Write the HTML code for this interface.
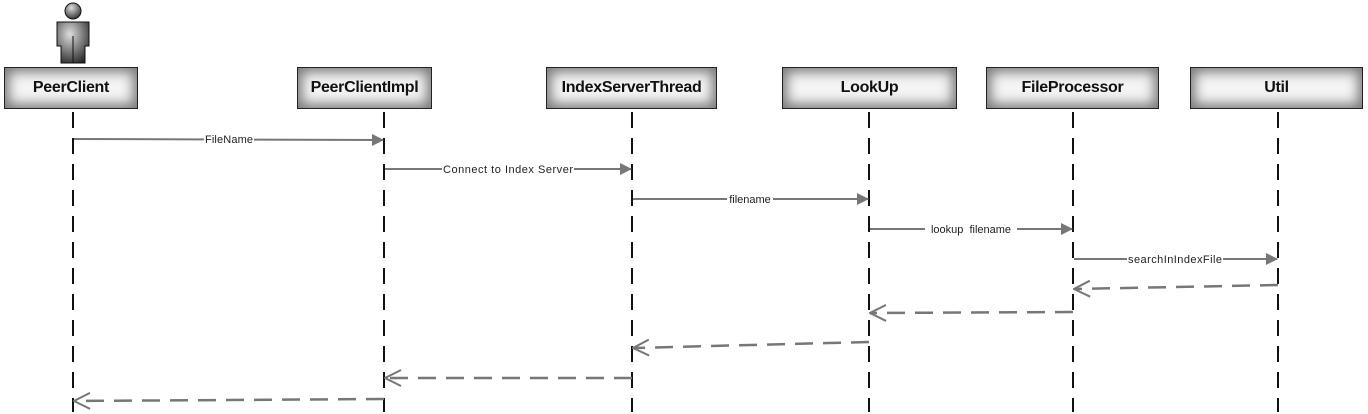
<!DOCTYPE html>
<html><head><style>
body{margin:0;width:1368px;height:414px;background:#fff;overflow:hidden;position:relative;font-family:"Liberation Sans",sans-serif}
.b{position:absolute;top:67px;height:42px;border:1px solid #222;background:#f4f4f4;box-shadow:inset 0 0 12px 4px #777;display:flex;align-items:center;justify-content:center;font-weight:bold;font-size:16px;color:#111;box-sizing:border-box;letter-spacing:-0.3px}
svg{position:absolute;left:0;top:0}
</style></head><body>
<svg width="1368" height="414">
<defs>
<marker id="a" markerWidth="12" markerHeight="12" refX="11" refY="6" orient="auto" markerUnits="userSpaceOnUse"><path d="M0,0 L12,6 L0,12z" fill="#777"/></marker>
<marker id="o" markerWidth="18" markerHeight="18" refX="17" refY="9" orient="auto" markerUnits="userSpaceOnUse"><path d="M1,1 L17,9 L1,17" fill="none" stroke="#777" stroke-width="2"/></marker>
<radialGradient id="g" cx="0.4" cy="0.3" r="0.8"><stop offset="0" stop-color="#ddd"/><stop offset="1" stop-color="#222"/></radialGradient>
</defs>
<circle cx="73" cy="11" r="8" fill="url(#g)" stroke="#111"/>
<path d="M57,22 H89 V46 H85 V63 H61 V46 H57z" fill="url(#g)" stroke="#111"/>
<path d="M73,36 V63" stroke="#111"/>
<g stroke="#111" stroke-width="2" stroke-dasharray="16,10" fill="none">
<path d="M73,112 V412"/><path d="M384,112 V412"/><path d="M632,112 V412"/><path d="M869,112 V412"/><path d="M1073,112 V412"/><path d="M1278,112 V412"/>
</g>
<g stroke="#777" stroke-width="2" fill="none">
<path d="M74,139 L383,140" marker-end="url(#a)"/>
<path d="M385,169 L631,169" marker-end="url(#a)"/>
<path d="M633,199 L868,199" marker-end="url(#a)"/>
<path d="M870,229 L1072,229" marker-end="url(#a)"/>
<path d="M1074,259 L1277,259" marker-end="url(#a)"/>
</g>
<g stroke="#777" stroke-width="2.5" fill="none" stroke-dasharray="18,10">
<path d="M1278,285 L1074,289" marker-end="url(#o)"/>
<path d="M1073,312 L870,313" marker-end="url(#o)"/>
<path d="M869,342 L633,348" marker-end="url(#o)"/>
<path d="M632,378 L385,378" marker-end="url(#o)"/>
<path d="M384,399 L74,401" marker-end="url(#o)"/>
</g>
<g font-family="Liberation Sans,sans-serif" font-size="11" fill="#222" text-anchor="middle">
<rect x="204" y="132" width="50" height="13" fill="#fff"/><text x="229" y="143" textLength="48">FileName</text>
<rect x="442" y="162" width="132" height="13" fill="#fff"/><text x="508" y="173" textLength="130">Connect to Index Server</text>
<rect x="727" y="192" width="46" height="13" fill="#fff"/><text x="750" y="203">filename</text>
<rect x="925" y="222" width="92" height="13" fill="#fff"/><text x="971" y="233">lookup&#160; filename</text>
<rect x="1127" y="252" width="96" height="13" fill="#fff"/><text x="1175" y="263" textLength="94">searchInIndexFile</text>
</g>
</svg>
<div class="b" style="left:4px;width:134px">PeerClient</div>
<div class="b" style="left:297px;width:135px">PeerClientImpl</div>
<div class="b" style="left:546px;width:171px">IndexServerThread</div>
<div class="b" style="left:782px;width:175px">LookUp</div>
<div class="b" style="left:986px;width:173px">FileProcessor</div>
<div class="b" style="left:1190px;width:173px">Util</div>
</body></html>
